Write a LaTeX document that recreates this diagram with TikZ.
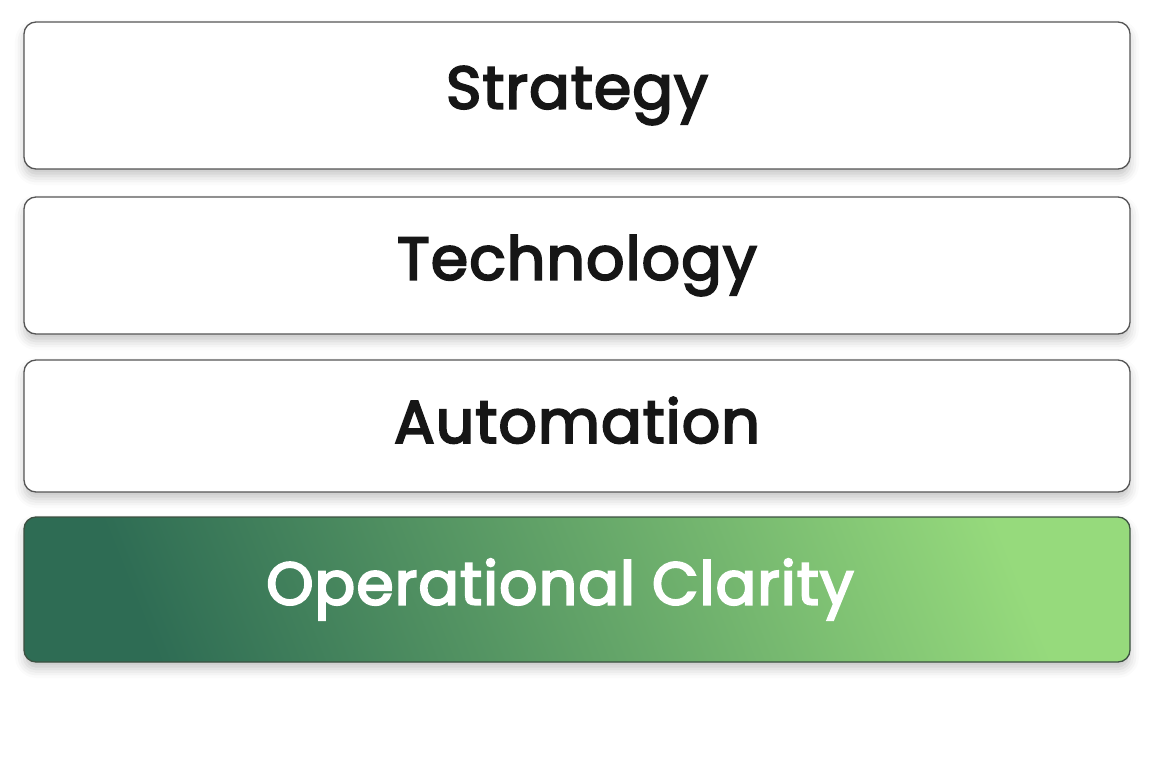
\documentclass[tikz,border=0pt]{standalone}
\usepackage{fontspec}
\setmainfont{Poppins}
\newfontfamily\layerfont{Poppins}[FakeBold=3.5,LetterSpace=2]
\usetikzlibrary{shadows.blur}

\begin{document}
\begin{tikzpicture}[x=1pt,y=-1pt]
% 1150 x 767, stacked layers
\tikzset{
  layer/.style={rounded corners=12pt,line width=1.3pt,minimum width=1106pt,inner sep=0pt,
    font=\fontsize{60}{62}\selectfont\layerfont,
    blur shadow={shadow xshift=0pt,shadow yshift=-7pt,shadow blur radius=9pt,shadow opacity=22}},
  plainlayer/.style={layer,draw={rgb,255:red,85;green,85;blue,85},fill=white,text={rgb,255:red,22;green,22;blue,22}},
  greenlayer/.style={layer,draw={rgb,255:red,60;green,80;blue,65},text=white,
    left color={rgb,255:red,46;green,108;blue,84},middle color={rgb,255:red,66;green,138;blue,100},
    right color={rgb,255:red,150;green,218;blue,124},shading angle=112}
}
\useasboundingbox (0,0) rectangle (1150,767);
\node[plainlayer,minimum height=147pt] (strategy) at (577,95.5) {\raisebox{3pt}{Strategy}};
\node[plainlayer,minimum height=137pt] (technology) at (577,265.5) {\raisebox{3pt}{Technology}};
\node[plainlayer,minimum height=132pt] (automation) at (577,426) {\raisebox{12pt}{Automation}};
\node[greenlayer,minimum height=145pt] (clarity) at (577,589.5) {\hspace*{-34pt}\raisebox{4pt}{Operational Clarity}};
\end{tikzpicture}
\end{document}
